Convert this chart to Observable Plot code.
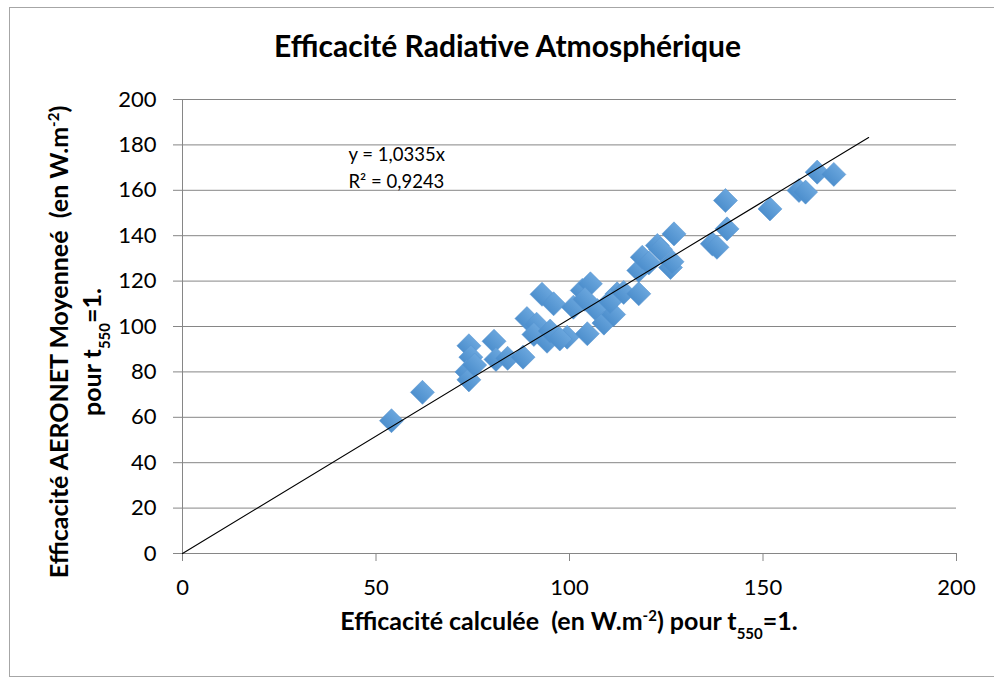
<!DOCTYPE html>
<html>
<head>
<meta charset="utf-8">
<script src="https://cdn.jsdelivr.net/npm/d3@7"></script>
<script src="https://cdn.jsdelivr.net/npm/@observablehq/plot@0.6"></script>
<style>
  body { margin: 0; background: #fff; font-family: Lato, "Open Sans", sans-serif; }
  #wrap { position: relative; width: 994px; height: 677px; overflow: hidden; background: #fff; }
  #frame { position: absolute; left: 9px; top: 7px; width: 1000px; height: 668px; border: 1px solid #a6a6a6; pointer-events: none; }
  #title { height: 70px; box-sizing: border-box; padding-top: 30px; text-align: center; font: bold 30px Lato, sans-serif; line-height: 30px; color: #000; width: 1015px; white-space: nowrap; }
  #chart svg { display: block; }
</style>
</head>
<body>
<div id="wrap">
  <div id="title">Efficacité Radiative Atmosphérique</div>
  <div id="chart"></div>
  <div id="frame"></div>
</div>
<script>
// Efficacité calculée (x) vs Efficacité AERONET moyennée (y)
const calcX = [54, 62, 74, 74.5, 73.5, 74, 75.5, 80.5, 81, 84, 88, 89, 91.5, 90.8, 92.9, 94.2, 95.9, 95, 99.4, 101,
  103.3, 104.6, 105.4, 107.2, 108.9, 111.4, 112.3, 110.5, 114, 117.9, 117.9, 118.8, 120.5, 122.7, 123.5, 126.1, 126.5,
  127, 136.9, 138.1, 140.7, 140.3, 151.8, 159.3, 161, 164, 168.3, 104, 97.5];
const aeronetY = [58.5, 71, 91.5, 86.5, 80, 76.5, 83, 93.5, 85.5, 86, 86.5, 103.5, 101, 96.5, 114.2, 93.5, 110, 98, 95.3, 108.5,
  115.9, 96.8, 118.8, 107, 101.5, 105.3, 114.4, 111, 115, 114.4, 124.7, 130.5, 128, 135.7, 134, 126, 128.5,
  140.8, 136.4, 134.9, 143, 155.5, 151.8, 159.9, 159.2, 168, 167, 112, 94.5];
const slope = 1.0335;
const trendX = [0, 177.3];
const xTicks = [0, 50, 100, 150, 200];
const yTicks = [0, 20, 40, 60, 80, 100, 120, 140, 160, 180, 200];
const eqLabels = ["y = 1,0335x", "R² = 0,9243"];
const eqX = [42.9, 42.9];
const eqY = [175.3, 163.8];

const points = calcX.map((x, i) => ({x, y: aeronetY[i]}));
const trend = trendX.map(x => ({x, y: slope * x}));
const eq = eqLabels.map((t, i) => ({t, x: eqX[i], y: eqY[i]}));

const grey = "#868686";
const plot = Plot.plot({
  width: 994,
  height: 607,
  marginLeft: 182,
  marginRight: 38,
  marginTop: 29,
  marginBottom: 124,
  style: {fontFamily: "Lato, sans-serif", color: "#000", background: "transparent"},
  x: {domain: [0, 200]},
  y: {domain: [0, 200]},
  marks: [
    Plot.ruleY(yTicks, {stroke: grey, strokeWidth: 1}),
    Plot.ruleX([0], {stroke: grey, strokeWidth: 1}),
    Plot.axisY({ticks: yTicks, tickSize: 9, tickPadding: 17, fontSize: 22, stroke: grey, fill: "#000", label: null}),
    Plot.axisX({ticks: xTicks, tickSize: 8, tickPadding: 18, fontSize: 22, stroke: grey, fill: "#000", label: null}),
    Plot.dot(points, {x: "x", y: "y", symbol: "square", rotate: 45, r: 9.6, fill: "url(#dgrad)", stroke: "#5593cf", strokeWidth: 0.5}),
    Plot.line(trend, {x: "x", y: "y", stroke: "#000", strokeWidth: 1.1}),
    Plot.text(eq, {x: "x", y: "y", text: "t", textAnchor: "start", fontSize: 18.5, fill: "#000"})
  ]
});
document.getElementById("chart").appendChild(plot);

const svg = d3.select(plot);
const defs = svg.insert("defs", ":first-child");
const g = defs.append("linearGradient").attr("id", "dgrad").attr("x1", "0").attr("y1", "0").attr("x2", "0").attr("y2", "1");
g.append("stop").attr("offset", "0%").attr("stop-color", "#6aa6dd");
g.append("stop").attr("offset", "100%").attr("stop-color", "#4d8fcd");

function addLabel(sel, parts, size) {
  parts.forEach(p => {
    const ts = sel.append("tspan").text(p.t);
    if (p.sup) ts.attr("baseline-shift", "super").attr("font-size", size * 0.6);
    if (p.sub) ts.attr("baseline-shift", "sub").attr("font-size", size * 0.6);
  });
}
const labSize = 25;
const xl = svg.append("text").attr("x", 569).attr("y", 560).attr("text-anchor", "middle")
  .attr("font-weight", "bold").attr("font-size", labSize).attr("fill", "#000");
addLabel(xl, [{t: "Efficacité calculée  (en W.m"}, {t: "-2", sup: true}, {t: ") pour t"}, {t: "550", sub: true}, {t: "=1."}], labSize);

const y1 = svg.append("text").attr("transform", "translate(68,272) rotate(-90)").attr("text-anchor", "middle")
  .attr("font-weight", "bold").attr("font-size", labSize).attr("fill", "#000");
addLabel(y1, [{t: "Efficacité AERONET Moyenneé  (en W.m"}, {t: "-2", sup: true}, {t: ")"}], labSize);
const y2 = svg.append("text").attr("transform", "translate(101,282) rotate(-90)").attr("text-anchor", "middle")
  .attr("font-weight", "bold").attr("font-size", labSize).attr("fill", "#000");
addLabel(y2, [{t: "pour t"}, {t: "550", sub: true}, {t: "=1."}], labSize);
</script>
</body>
</html>
